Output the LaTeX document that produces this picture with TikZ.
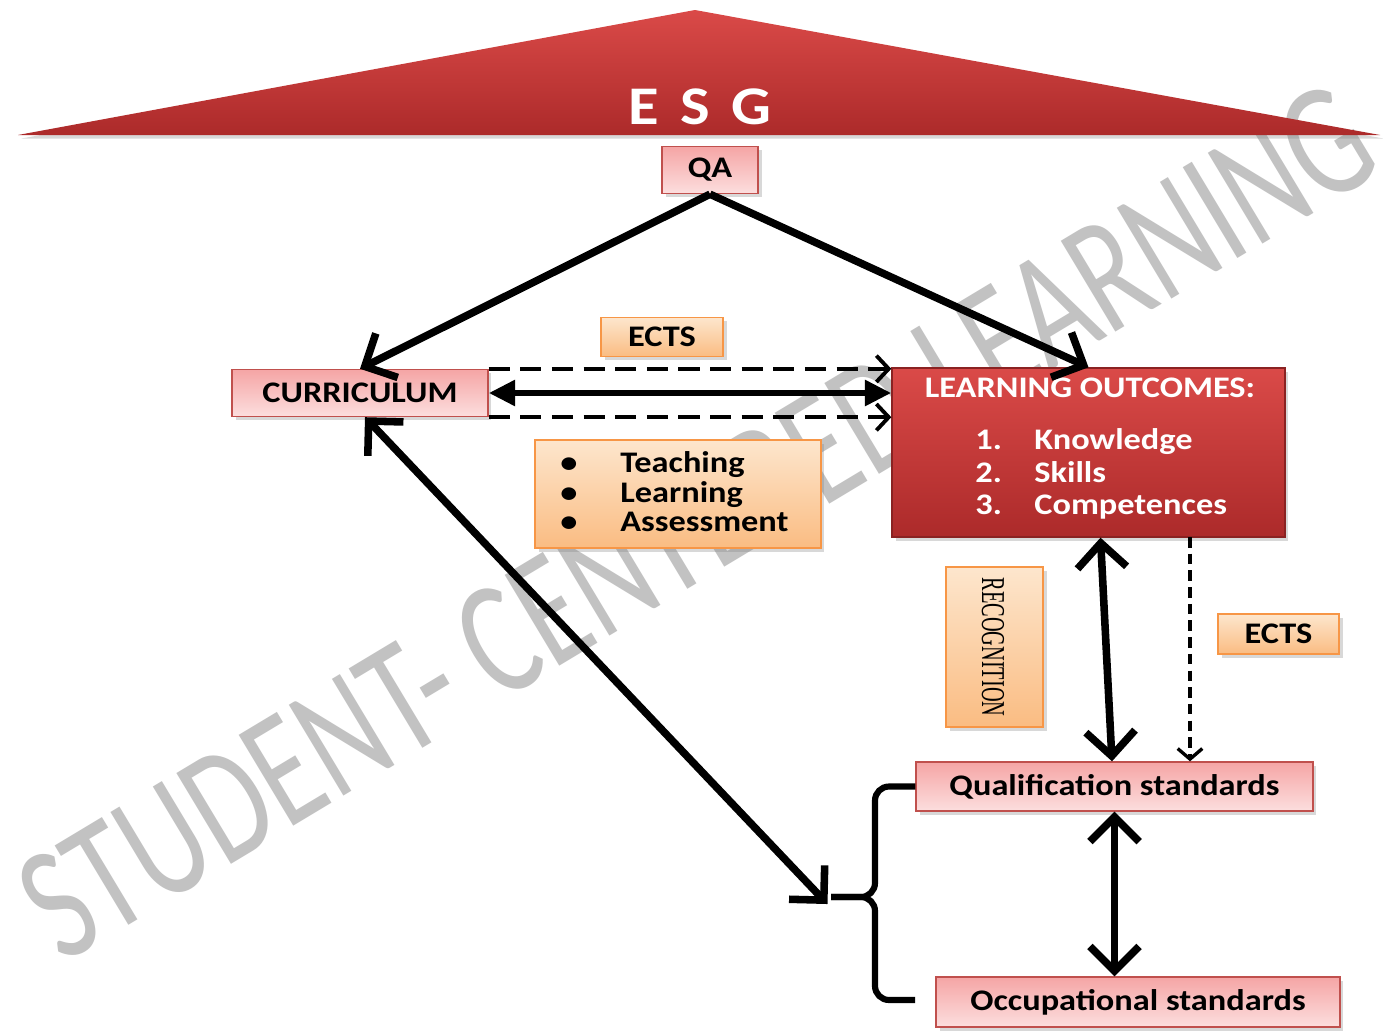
\documentclass[tikz,border=0pt]{standalone}
\usepackage[svgnames]{xcolor}
\usepackage{fontspec}
\setmainfont{Carlito}[FakeStretch=1.15]
\newfontfamily\markfont{Carlito}
\newfontfamily\recfont{Liberation Serif}
\usepackage{tikz}
\usetikzlibrary{arrows.meta, shadows}

\definecolor{roofTop}{RGB}{218,74,72}
\definecolor{roofBot}{RGB}{172,42,42}
\definecolor{pinkTop}{RGB}{245,165,165}
\definecolor{pinkBot}{RGB}{252,222,222}
\definecolor{pinkLine}{RGB}{192,80,77}
\definecolor{peachTop}{RGB}{253,230,205}
\definecolor{peachBot}{RGB}{250,188,130}
\definecolor{peachLine}{RGB}{247,150,70}
\definecolor{markGray}{RGB}{194,194,194}

\begin{document}
\begin{tikzpicture}[x=0.02cm, y=-0.02cm, font=\bfseries\fontsize{17}{20}\selectfont]
	\useasboundingbox (0,0) rectangle (1383,1031);
	\fill[white] (0,0) rectangle (1383,1031);
	\tikzstyle{shadowed}=[drop shadow={shadow xshift=2pt, shadow yshift=-2pt, opacity=0.3}]
	\tikzstyle{pinkbox}=[draw=pinkLine, line width=0.8pt, top color=pinkTop, bottom color=pinkBot, shadowed, inner sep=0pt]
	\tikzstyle{peachbox}=[draw=peachLine, line width=0.8pt, top color=peachTop, bottom color=peachBot, shadowed, inner sep=0pt]
	\tikzstyle{redbox}=[draw=roofBot!80!black, line width=0.8pt, top color=roofTop, bottom color=roofBot, shadowed]
	\tikzstyle{txt}=[inner sep=0pt]
	\tikzstyle{solid link}=[line width=4.3pt, -{Straight Barb[length=14pt,width=28pt]}]
	\tikzstyle{twoway}=[line width=4.3pt, {Straight Barb[length=14pt,width=28pt]}-{Straight Barb[length=14pt,width=28pt]}]
	\tikzstyle{pointed twoway}=[line width=3.8pt, {Triangle[length=15pt,width=14pt]}-{Triangle[length=15pt,width=14pt]}]
	\tikzstyle{dashed link}=[line width=2.2pt, dash pattern=on 12pt off 6pt, -{Straight Barb[length=7pt,width=15pt]}]
	\tikzstyle{dashed drop}=[line width=1.9pt, dash pattern=on 6pt off 3.5pt, -{Straight Barb[length=6pt,width=14pt]}]
	\tikzstyle{brace}=[line width=3.5pt, rounded corners=8pt]
	% watermark
	\node[text=markGray, rotate=31, font=\markfont\mdseries\fontsize{94}{94}\selectfont] (watermark) at (697,522) {\scalebox{0.72}[1]{STUDENT- CENTERED LEARNING}};
	% roof
	\shade[top color=roofTop, bottom color=roofBot, shadowed] (18,135) -- (695,10) -- (1380,135) -- cycle;
	\node[text=white, font=\bfseries\fontsize{31}{32}\selectfont] (esg) at (700,107) {E\hspace{0.4em}S\hspace{0.4em}G};
	\node[pinkbox, minimum width=1.92cm, minimum height=0.94cm] (qa) at (710,170) {QA};
	\node[peachbox, minimum width=2.44cm, minimum height=0.78cm] (ectstop) at (662,337) {ECTS};
	\node[pinkbox, minimum width=5.12cm, minimum height=0.94cm] (curriculum) at (360,393) {CURRICULUM};
	\node[redbox, minimum width=7.86cm, minimum height=3.38cm] (outcomes) at (1088.5,452.5) {};
	\node[txt, text=white, anchor=base] (outtitle) at (1090,397) {LEARNING OUTCOMES:};
	\foreach \i/\word in {1/Knowledge,2/Skills,3/Competences} {
		\node[txt, text=white, anchor=base west] (num\i) at (975,417+32.5*\i) {\i.};
		\node[txt, text=white, anchor=base west] (lo\i) at (1034,417+32.5*\i) {\word};
	}
	\node[peachbox, minimum width=5.72cm, minimum height=2.16cm] (methods) at (678,494) {};
	\foreach \i/\word in {1/Teaching,2/Learning,3/Assessment} {
		\node[txt, anchor=base] (dot\i) at (569,443+29.5*\i) {\textbullet};
		\node[txt, anchor=base west] (tla\i) at (620,443+29.5*\i) {\word};
	}
	\node[peachbox, minimum width=1.94cm, minimum height=3.2cm] (recognition) at (994.5,647) {};
	\node[rotate=-90, font=\recfont\mdseries\fontsize{19}{19}\selectfont] (rectext) at (993,647) {\scalebox{0.61}[1]{RECOGNITION}};
	\node[peachbox, minimum width=2.42cm, minimum height=0.8cm] (ectsright) at (1278.5,634) {ECTS};
	\node[pinkbox, minimum width=7.94cm, minimum height=0.98cm] (qual) at (1114.5,786.5) {Qualification standards};
	\node[pinkbox, minimum width=8.08cm, minimum height=1.0cm] (occ) at (1138,1002) {Occupational standards};
	\coordinate (bracetip) at (831,897);
	\coordinate (bracebot) at (915,1000);
	\coordinate (ectsdrop) at (1190,537);
	\draw[solid link] (qa.south) -- (curriculum.north);
	\draw[solid link] (qa.south) -- (outcomes.north);
	\draw[dashed link] (curriculum.north east) -- (curriculum.north east -| outcomes.west);
	\draw[pointed twoway] (curriculum.east) -- (curriculum.east -| outcomes.west);
	\draw[dashed link] (curriculum.south east) -- (curriculum.south east -| outcomes.west);
	\draw[twoway] ([xshift=0.1cm]curriculum.south) -- ([shift={(-2pt,-4pt)}]bracetip);
	\draw[twoway] ([xshift=0.24cm]outcomes.south) -- ([xshift=-0.05cm]qual.north);
	\draw[dashed drop] (ectsdrop) -- (ectsdrop |- qual.north);
	\draw[twoway] (qual.south) -- (qual.south |- occ.north);
	\draw[brace] (qual.west) -| (875,897) -- (bracetip);
	\draw[brace] (bracetip) -- (875,897) |- (bracebot);
\end{tikzpicture}
\end{document}
